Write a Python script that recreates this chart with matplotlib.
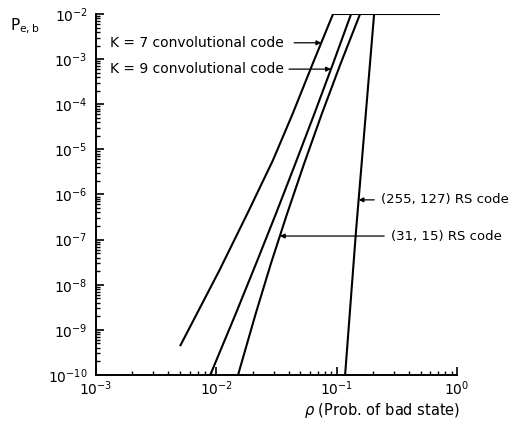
import numpy as np
import matplotlib.pyplot as plt
from matplotlib.ticker import LogLocator, NullFormatter

# bit error probability vs. probability of the bad channel state
k7_rho = [0.00499, 0.01063, 0.0187, 0.02959, 0.04299, 0.06305, 0.0933]
k7_P = [4.35e-10, 2.11e-8, 4.51e-7, 5.8e-6, 6.07e-5, 7.78e-4, 1e-2]

P_levels = [1e-10, 2.23e-9, 2.86e-8, 3.67e-7, 4.72e-6, 6.07e-5, 7.78e-4, 1e-2]
k9_rho = [0.0089, 0.01445, 0.0213, 0.03118, 0.04519, 0.06513, 0.093, 0.1318]
rs31_rho = [0.01515, 0.02118, 0.02832, 0.03863, 0.05349, 0.07516, 0.1075, 0.1565]

rs255_rho = [0.1175, 0.145, 0.2047]
rs255_P = [1e-10, 1.63e-7, 1e-2]

# all curves saturate at 1e-2
flat_rho = [0.0933, 0.72]
flat_P = [1e-2, 1e-2]

labels = ['K = 7 convolutional code', 'K = 9 convolutional code',
          '(255, 127) RS code', '(31, 15) RS code']


def rho_at(rho, P, p):
    # log-log interpolation along a curve
    return 10 ** np.interp(np.log10(p), np.log10(P), np.log10(rho))


fig = plt.figure(figsize=(5.12, 4.24), dpi=100)
ax = fig.add_axes([0.1875, 0.1156, 0.7051, 0.8514])

lw = 1.5
for r, p in [(k7_rho, k7_P), (k9_rho, P_levels), (rs31_rho, P_levels),
             (rs255_rho, rs255_P), (flat_rho, flat_P)]:
    ax.plot(r, p, color='black', lw=lw, solid_capstyle='butt',
            solid_joinstyle='round')

ax.set_xscale('log')
ax.set_yscale('log')
ax.set_xlim(1e-3, 1)
ax.set_ylim(1e-10, 1e-2)

for s in ['top', 'right']:
    ax.spines[s].set_visible(False)
for s in ['left', 'bottom']:
    ax.spines[s].set_linewidth(1.4)

ax.xaxis.set_major_locator(LogLocator(base=10, numticks=10))
ax.yaxis.set_major_locator(LogLocator(base=10, numticks=20))
ax.xaxis.set_minor_locator(LogLocator(base=10, subs=np.arange(2, 10), numticks=20))
ax.yaxis.set_minor_locator(LogLocator(base=10, subs=np.arange(2, 10), numticks=20))
ax.xaxis.set_minor_formatter(NullFormatter())
ax.yaxis.set_minor_formatter(NullFormatter())
ax.tick_params(which='major', direction='in', length=6, width=1.2,
               labelsize=10, pad=6)
ax.tick_params(axis='x', which='major', pad=3)
ax.tick_params(which='minor', direction='in', length=3, width=1.0)

ax.set_xlabel(r'$\rho$ (Prob. of bad state)', fontsize=10.5)
ax.xaxis.set_label_coords(0.792, -0.072)
fig.text(0.02, 0.928, r'$\mathrm{P_{e,b}}$', fontsize=11)

# labels with arrows pointing at the curves
arrow = dict(arrowstyle='-|>', color='black', lw=0.9, mutation_scale=7,
             shrinkA=0, shrinkB=0)

p7 = 2.3e-3
ax.text(1.3e-3, p7, labels[0], fontsize=10, va='center', ha='left')
ax.annotate('', xy=(rho_at(k7_rho, k7_P, p7), p7), xytext=(0.0443, p7),
            arrowprops=arrow)

p9 = 6e-4
ax.text(1.3e-3, p9, labels[1], fontsize=10, va='center', ha='left')
ax.annotate('', xy=(rho_at(k9_rho, P_levels, p9), p9), xytext=(0.0402, p9),
            arrowprops=arrow)

p255 = 7.6e-7
ax.text(0.234, p255, labels[2], fontsize=9.5, va='center', ha='left')
ax.annotate('', xy=(rho_at(rs255_rho, rs255_P, p255), p255),
            xytext=(0.205, p255), arrowprops=arrow)

p31 = 1.2e-7
ax.text(0.283, p31, labels[3], fontsize=9.5, va='center', ha='left')
ax.annotate('', xy=(rho_at(rs31_rho, P_levels, p31), p31),
            xytext=(0.248, p31), arrowprops=arrow)

fig.savefig('out.png', dpi=100)
